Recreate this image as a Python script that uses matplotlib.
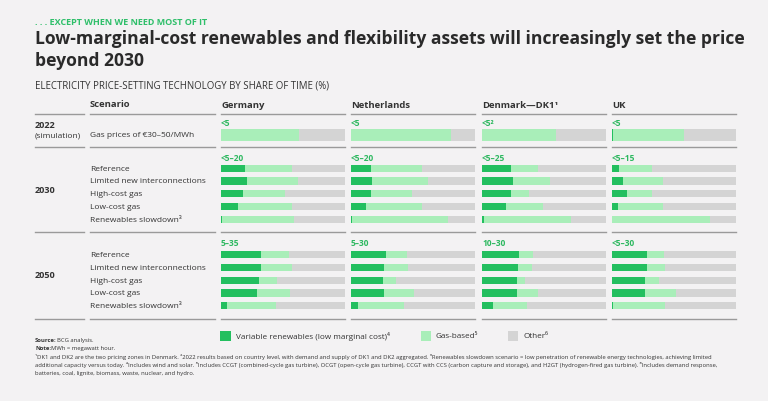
import matplotlib.pyplot as plt
import numpy as np

plt.rcParams['font.family'] = ['Open Sans', 'DejaVu Sans']

# data (share of time, %)
countries = ['Germany', 'Netherlands', 'Denmark—DK1¹', 'UK']
scenarios = ['Reference', 'Limited new interconnections', 'High-cost gas',
             'Low-cost gas', 'Renewables slowdown³']

ren_2022 = [0, 0, 0, 1]
gas_2022 = [63, 81, 60, 57]

ren_2030 = {
    'Germany': [19, 21, 18, 14, 1],
    'Netherlands': [16, 17, 16, 12, 1],
    'Denmark—DK1¹': [23, 25, 23, 19, 2],
    'UK': [6, 9, 12, 5, 0],
}
gas_2030 = {
    'Germany': [38, 41, 34, 43, 58],
    'Netherlands': [41, 45, 33, 45, 77],
    'Denmark—DK1¹': [22, 30, 15, 30, 70],
    'UK': [26, 32, 20, 36, 79],
}
ren_2050 = {
    'Germany': [32, 32, 31, 29, 5],
    'Netherlands': [28, 27, 26, 27, 6],
    'Denmark—DK1¹': [30, 29, 28, 28, 9],
    'UK': [28, 28, 27, 27, 1],
}
gas_2050 = {
    'Germany': [23, 25, 14, 27, 39],
    'Netherlands': [17, 19, 10, 24, 37],
    'Denmark—DK1¹': [11, 11, 7, 17, 27],
    'UK': [14, 15, 11, 25, 42],
}

range_2022 = ['<5', '<5', '<5²', '<5']
range_2030 = ['<5–20', '<5–20', '<5–25', '<5–15']
range_2050 = ['5–35', '5–30', '10–30', '<5–30']

C_REN = '#23bf5f'
C_GAS = '#a9eeb9'
C_OTH = '#d4d4d4'
C_LBL = '#2cb85f'
C_TXT = '#333333'
C_LINE = '#9a9a9a'
BG = '#f3f2f3'

W, H = 768, 402
fig = plt.figure(figsize=(W / 100, H / 100), dpi=100, facecolor=BG)

# overlay axes in pixel coordinates for text and rules
lay = fig.add_axes([0, 0, 1, 1])
lay.set_xlim(0, W)
lay.set_ylim(H, 0)
lay.axis('off')
lay.patch.set_alpha(0)

col_x = [221, 351, 482, 612]
col_w = 124

# header texts
lay.text(35, 22.5, '. . . EXCEPT WHEN WE NEED MOST OF IT', color='#2fbf6a',
         fontsize=6.5, fontweight='bold', va='center')
lay.text(35, 39.5, 'Low-marginal-cost renewables and flexibility assets will increasingly set the price',
         color='#2a2a2a', fontsize=12.6, fontweight='bold', va='center')
lay.text(35, 61, 'beyond 2030', color='#2a2a2a', fontsize=12.6, fontweight='bold', va='center')
lay.text(35, 86, 'ELECTRICITY PRICE-SETTING TECHNOLOGY BY SHARE OF TIME (%)',
         color=C_TXT, fontsize=6.9, va='center')
lay.text(90, 104.5, 'Scenario', color=C_TXT, fontsize=6.8, fontweight='bold', va='center')
for x, c in zip(col_x, countries):
    lay.text(x, 105.5, c, color=C_TXT, fontsize=6.8, fontweight='bold', va='center')

# horizontal rules
def rules(y):
    lay.plot([35, 84], [y, y], color=C_LINE, lw=1)
    lay.plot([90, 215], [y, y], color=C_LINE, lw=1)
    for x in col_x:
        lay.plot([x, x + col_w], [y, y], color=C_LINE, lw=1)

for y in [115, 148.3, 233.3, 319.5]:
    rules(y)

# left labels
lay.text(35, 125, '2022', color=C_TXT, fontsize=6.6, fontweight='bold', va='center')
lay.text(35, 136, '(simulation)', color=C_TXT, fontsize=6.0, va='center')
lay.text(90, 136, 'Gas prices of €30–50/MWh', color=C_TXT, fontsize=6.0, va='center')
lay.text(35, 191, '2030', color=C_TXT, fontsize=6.6, fontweight='bold', va='center')
lay.text(35, 276, '2050', color=C_TXT, fontsize=6.6, fontweight='bold', va='center')

y_2030 = [169.3, 182, 194.7, 207.5, 220.3]
y_2050 = [255.7, 268.5, 281.3, 294, 306.7]
for s, y in zip(scenarios, y_2030):
    lay.text(90, y, s, color=C_TXT, fontsize=6.0, va='center')
for s, y in zip(scenarios, y_2050):
    lay.text(90, y, s, color=C_TXT, fontsize=6.0, va='center')

# bar axes, one per country
ytop, ybot = 118, 316
for i, c in enumerate(countries):
    ax = fig.add_axes([col_x[i] / W, 1 - ybot / H, col_w / W, (ybot - ytop) / H])
    ax.set_xlim(0, 100)
    ax.set_ylim(ybot, ytop)
    ax.axis('off')
    ax.patch.set_alpha(0)

    def draw(ys, ren, gas, h):
        ren = np.array(ren)
        gas = np.array(gas)
        oth = 100 - ren - gas
        ax.barh(ys, ren, height=h, color=C_REN, lw=0)
        ax.barh(ys, gas, left=ren, height=h, color=C_GAS, lw=0)
        ax.barh(ys, oth, left=ren + gas, height=h, color=C_OTH, lw=0)

    draw([136], [ren_2022[i]], [gas_2022[i]], 11.5)
    draw(y_2030, ren_2030[c], gas_2030[c], 7.5)
    draw(y_2050, ren_2050[c], gas_2050[c], 7.5)

    lay.text(col_x[i], 124, range_2022[i], color=C_LBL, fontsize=6.0, fontweight='bold', va='center')
    lay.text(col_x[i], 158.3, range_2030[i], color=C_LBL, fontsize=6.0, fontweight='bold', va='center')
    lay.text(col_x[i], 244, range_2050[i], color=C_LBL, fontsize=6.0, fontweight='bold', va='center')

# legend
leg = [(220, C_REN, 'Variable renewables (low marginal cost)⁴'),
       (420.5, C_GAS, 'Gas-based⁵'),
       (507.5, C_OTH, 'Other⁶')]
for x, col, lbl in leg:
    lay.add_patch(plt.Rectangle((x, 331.5), 10.5, 10, color=col, lw=0))
    lay.text(x + 15.5, 336.7, lbl, color=C_TXT, fontsize=5.9, va='center')

# footnotes
FN = 4.2
lay.text(35, 340.7, 'Source:', color=C_TXT, fontsize=FN, fontweight='bold', va='center')
lay.text(57, 340.7, 'BCG analysis.', color=C_TXT, fontsize=FN, va='center')
lay.text(35, 348.3, 'Note:', color=C_TXT, fontsize=FN, fontweight='bold', va='center')
lay.text(51, 348.3, 'MWh = megawatt hour.', color=C_TXT, fontsize=FN, va='center')
notes = [
    '¹DK1 and DK2 are the two pricing zones in Denmark. ²2022 results based on country level, with demand and supply of DK1 and DK2 aggregated. '
    '³Renewables slowdown scenario = low penetration of renewable energy technologies, achieving limited',
    'additional capacity versus today. ⁴Includes wind and solar. ⁵Includes CCGT (combined-cycle gas turbine), OCGT (open-cycle gas turbine), '
    'CCGT with CCS (carbon capture and storage), and H2GT (hydrogen-fired gas turbine). ⁶Includes demand response,',
    'batteries, coal, lignite, biomass, waste, nuclear, and hydro.',
]
for k, line in enumerate(notes):
    lay.text(35, 357 + 8.2 * k, line, color=C_TXT, fontsize=FN, va='center')

fig.savefig('out.png', dpi=100, facecolor=BG)
